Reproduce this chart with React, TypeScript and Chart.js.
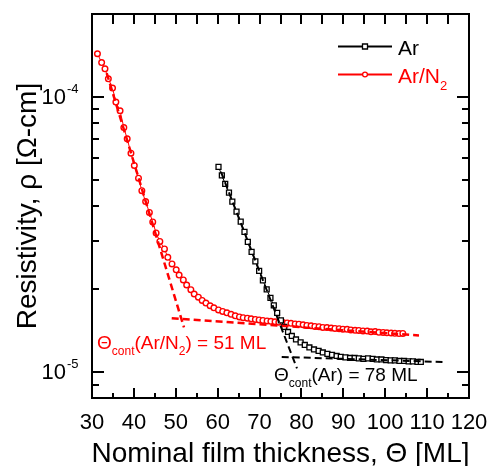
import React, { useEffect, useRef } from 'react';
import { Chart, registerables } from 'chart.js';

Chart.register(...registerables);

const FONT = '"Liberation Sans", Arial, Helvetica, sans-serif';

// Ar series (thickness in ML, resistivity in Ohm-cm)
const arThickness = [
  60.2, 61.0, 61.8, 62.7, 63.5, 64.5, 65.5, 66.4, 67.2, 68.1, 69.0, 69.9, 70.8, 71.7,
  72.6, 73.4, 74.2, 75.1, 75.9, 76.8, 77.7, 78.7, 79.8, 80.8,
  81.9, 83.0, 84.1, 85.1, 86.2, 87.3, 88.4, 89.4,
  90.5, 91.6, 92.7, 93.7, 94.8, 95.9, 97.0, 98.0, 99.1, 100.2,
  101.3, 102.3, 103.4, 104.5, 105.6, 106.6, 107.7, 108.5,
];
const arResistivity = [
  5.565e-5, 5.183e-5, 4.826e-5, 4.487e-5, 4.16e-5, 3.827e-5, 3.52e-5, 3.229e-5, 2.97e-5, 2.731e-5, 2.522e-5, 2.33e-5, 2.151e-5, 1.995e-5,
  1.858e-5, 1.745e-5, 1.639e-5, 1.539e-5, 1.457e-5, 1.397e-5, 1.351e-5, 1.312e-5, 1.28e-5, 1.253e-5,
  1.227e-5, 1.207e-5, 1.192e-5, 1.177e-5, 1.163e-5, 1.153e-5, 1.143e-5, 1.134e-5,
  1.129e-5, 1.124e-5, 1.124e-5, 1.12e-5, 1.115e-5, 1.12e-5, 1.115e-5, 1.11e-5, 1.11e-5, 1.105e-5,
  1.101e-5, 1.101e-5, 1.096e-5, 1.096e-5, 1.092e-5, 1.092e-5, 1.087e-5, 1.087e-5,
];

// Ar/N2 series
const arN2Thickness = [
  31.3, 32.3, 33.1, 33.9, 34.9, 35.7, 36.7, 37.6, 38.4, 39.3, 40.1, 41.1, 41.9,
  42.8, 43.7, 44.5,
  45.3, 46.2, 47.3, 48.1, 49.1, 50.1, 50.8, 51.8, 52.6, 53.6, 54.4, 55.4, 56.3, 57.2, 58.2, 59.1, 60.2, 61.2, 62.2, 63.2, 64.2, 65.2, 66.1, 67.1,
  68.0, 69.0, 69.9, 70.8, 71.8, 72.7, 73.7, 74.6, 75.6, 76.6, 77.5, 78.5, 79.4, 80.4, 81.3, 82.3, 83.2, 84.2, 85.1, 86.1,
  87.1, 88.0, 89.0, 89.9, 90.9, 91.8, 92.8, 93.7, 94.7, 95.7, 96.6, 97.6, 98.5, 99.5, 100.4, 101.4, 102.3, 103.3, 104.2,
];
const arN2Resistivity = [
  1.434e-4, 1.332e-4, 1.264e-4, 1.163e-4, 1.076e-4, 9.57e-5, 8.9e-5, 7.73e-5, 7.04e-5, 6.24e-5, 5.63e-5, 5.06e-5, 4.56e-5,
  4.16e-5, 3.8e-5, 3.51e-5,
  3.2e-5, 2.98e-5, 2.8e-5, 2.61e-5, 2.47e-5, 2.35e-5, 2.25e-5, 2.16e-5, 2.07e-5, 1.99e-5, 1.92e-5, 1.87e-5, 1.82e-5, 1.78e-5, 1.74e-5, 1.71e-5, 1.68e-5, 1.66e-5, 1.64e-5, 1.62e-5, 1.6e-5, 1.585e-5, 1.575e-5, 1.568e-5,
  1.56e-5, 1.552e-5, 1.545e-5, 1.539e-5, 1.533e-5, 1.528e-5, 1.522e-5, 1.517e-5, 1.512e-5, 1.507e-5, 1.502e-5, 1.494e-5, 1.491e-5, 1.484e-5, 1.476e-5, 1.472e-5, 1.464e-5, 1.46e-5, 1.451e-5, 1.45e-5,
  1.443e-5, 1.439e-5, 1.436e-5, 1.43e-5, 1.429e-5, 1.421e-5, 1.417e-5, 1.415e-5, 1.409e-5, 1.408e-5, 1.399e-5, 1.402e-5, 1.393e-5, 1.392e-5, 1.387e-5, 1.385e-5, 1.382e-5, 1.379e-5, 1.38e-5,
];

// Linear fits (dashed)
const arFitSteepX = [60.79, 78.94];
const arFitSteepY = [5.336e-5, 1.03e-5];
const arFitFlatX = [75.29, 113.67];
const arFitFlatY = [1.134e-5, 1.087e-5];
const arN2FitSteepX = [33.51, 51.96];
const arN2FitSteepY = [1.22e-4, 1.451e-5];
const arN2FitFlatX = [49.03, 108.06];
const arN2FitFlatY = [1.568e-5, 1.357e-5];

// Axes
const xMin = 30;
const xMax = 120;
const yMin = 8.04e-6;
const yMax = 2.0e-4;
const xMajorTicks = [30, 40, 50, 60, 70, 80, 90, 100, 110, 120];
const xMinorTicks = [35, 45, 55, 65, 75, 85, 95, 105, 115];
const yMajorTicks = [1e-5, 1e-4];
const yMajorExponents = ['-5', '-4'];
const yMinorTicks = [9e-6, 2e-5, 3e-5, 4e-5, 5e-5, 6e-5, 7e-5, 8e-5, 9e-5];

const xTitle = 'Nominal film thickness, \u0398 [ML]';
const yTitle = 'Resistivity, \u03C1 [\u03A9-cm]';
const seriesNames = ['Ar', 'Ar/N'];
const seriesSubs = ['', '2'];
const arNote = ['\u0398', 'cont', '(Ar) = 78 ML'];
const arN2Note = ['\u0398', 'cont', '(Ar/N', '2', ') = 51 ML'];

const RED = '#ff0000';
const BLACK = '#000000';

type Part = { t: string; size: number; dy: number };

function drawParts(ctx: CanvasRenderingContext2D, x: number, y: number, parts: Part[], color: string) {
  ctx.fillStyle = color;
  ctx.textAlign = 'left';
  ctx.textBaseline = 'alphabetic';
  let cx = x;
  for (const p of parts) {
    ctx.font = `${p.size}px ${FONT}`;
    ctx.fillText(p.t, cx, y + p.dy);
    cx += ctx.measureText(p.t).width;
  }
}

const decorPlugin = {
  id: 'decor',
  afterDraw(chart: any) {
    const ctx: CanvasRenderingContext2D = chart.ctx;
    const { left, right, top, bottom } = chart.chartArea;
    const xs = chart.scales.x;
    const ys = chart.scales.y;
    ctx.save();
    ctx.strokeStyle = BLACK;
    ctx.lineWidth = 2;
    ctx.lineCap = 'butt';
    ctx.strokeRect(left, top, right - left, bottom - top);
    ctx.beginPath();
    for (const v of xMajorTicks) {
      const p = Math.round(xs.getPixelForValue(v));
      ctx.moveTo(p, bottom); ctx.lineTo(p, bottom - 10);
      ctx.moveTo(p, top); ctx.lineTo(p, top + 10);
    }
    for (const v of xMinorTicks) {
      const p = Math.round(xs.getPixelForValue(v));
      ctx.moveTo(p, bottom); ctx.lineTo(p, bottom - 5);
      ctx.moveTo(p, top); ctx.lineTo(p, top + 10);
    }
    for (const v of yMajorTicks) {
      const p = Math.round(ys.getPixelForValue(v));
      ctx.moveTo(left, p); ctx.lineTo(left + 12, p);
      ctx.moveTo(right, p); ctx.lineTo(right - 12, p);
    }
    for (const v of yMinorTicks) {
      const p = Math.round(ys.getPixelForValue(v));
      ctx.moveTo(left, p); ctx.lineTo(left + 7, p);
      ctx.moveTo(right, p); ctx.lineTo(right - 7, p);
    }
    ctx.stroke();

    // x tick labels
    ctx.fillStyle = BLACK;
    ctx.font = `22px ${FONT}`;
    ctx.textAlign = 'center';
    ctx.textBaseline = 'alphabetic';
    for (const v of xMajorTicks) {
      ctx.fillText(String(v), xs.getPixelForValue(v), 429);
    }
    // y tick labels 10^n
    yMajorTicks.forEach((v, i) => {
      const p = ys.getPixelForValue(v);
      ctx.font = `22px ${FONT}`;
      ctx.textAlign = 'right';
      ctx.fillText('10', 66, p + 7.5);
      ctx.font = `13px ${FONT}`;
      ctx.textAlign = 'left';
      ctx.fillText(yMajorExponents[i], 67, p - 4);
    });

    // axis titles
    ctx.font = `28px ${FONT}`;
    ctx.textAlign = 'center';
    ctx.fillText(xTitle, (left + right) / 2, 462);
    ctx.save();
    ctx.translate(36, (top + bottom) / 2);
    ctx.rotate(-Math.PI / 2);
    ctx.textBaseline = 'alphabetic';
    ctx.fillText(yTitle, 0, 0);
    ctx.restore();

    // legend
    const legendY = [46.5, 74.5];
    const legendColors = [BLACK, RED];
    for (let i = 0; i < 2; i++) {
      const yy = legendY[i];
      ctx.strokeStyle = legendColors[i];
      ctx.lineWidth = 2;
      ctx.beginPath();
      ctx.moveTo(338, yy);
      ctx.lineTo(392, yy);
      ctx.stroke();
      ctx.fillStyle = '#ffffff';
      ctx.lineWidth = 1.3;
      ctx.beginPath();
      if (i === 0) {
        ctx.rect(362.5, yy - 2.5, 5, 5);
      } else {
        ctx.arc(365, yy, 2.4, 0, Math.PI * 2);
      }
      ctx.fill();
      ctx.stroke();
      const parts: Part[] = [{ t: seriesNames[i], size: 21, dy: 0 }];
      if (seriesSubs[i]) parts.push({ t: seriesSubs[i], size: 13, dy: 7 });
      drawParts(ctx, 398, yy + 8, parts, legendColors[i]);
    }

    // annotations
    drawParts(ctx, 97, 349, [
      { t: arN2Note[0], size: 19, dy: 0 },
      { t: arN2Note[1], size: 12, dy: 6 },
      { t: arN2Note[2], size: 19, dy: 0 },
      { t: arN2Note[3], size: 12, dy: 6 },
      { t: arN2Note[4], size: 19, dy: 0 },
    ], RED);
    drawParts(ctx, 274, 380.5, [
      { t: arNote[0], size: 19, dy: 0 },
      { t: arNote[1], size: 12, dy: 6 },
      { t: arNote[2], size: 19, dy: 0 },
    ], BLACK);
    ctx.restore();
  },
};

const toPoints = (xs: number[], ys: number[]) => xs.map((x, i) => ({ x, y: ys[i] }));

export default function App() {
  const ref = useRef<HTMLCanvasElement | null>(null);
  useEffect(() => {
    if (!ref.current) return;
    const fit = (xs: number[], ys: number[], color: string, w: number) => ({
      data: toPoints(xs, ys),
      showLine: true,
      borderColor: color,
      borderWidth: w,
      borderDash: [7, 4],
      pointRadius: 0,
      fill: false,
    });
    const chart = new Chart(ref.current, {
      type: 'scatter',
      data: {
        datasets: [
          { label: 'Ar fit steep', ...fit(arFitSteepX, arFitSteepY, BLACK, 2) },
          { label: 'Ar fit flat', ...fit(arFitFlatX, arFitFlatY, BLACK, 2) },
          { label: 'Ar/N2 fit steep', ...fit(arN2FitSteepX, arN2FitSteepY, RED, 2.5) },
          { label: 'Ar/N2 fit flat', ...fit(arN2FitFlatX, arN2FitFlatY, RED, 2.5) },
          {
            label: 'Ar',
            data: toPoints(arThickness, arResistivity),
            showLine: true,
            borderColor: BLACK,
            borderWidth: 1,
            pointStyle: 'rect',
            pointRadius: 3.5,
            pointBorderWidth: 1.3,
            pointBorderColor: BLACK,
            pointBackgroundColor: '#ffffff',
          },
          {
            label: 'Ar/N2',
            data: toPoints(arN2Thickness, arN2Resistivity),
            showLine: true,
            borderColor: RED,
            borderWidth: 1,
            pointStyle: 'circle',
            pointRadius: 2.8,
            pointBorderWidth: 1.4,
            pointBorderColor: RED,
            pointBackgroundColor: '#ffffff',
          },
        ],
      },
      options: {
        responsive: false,
        animation: false,
        devicePixelRatio: 1,
        layout: { padding: { left: 92, right: 19, top: 14, bottom: 68 } },
        elements: { line: { tension: 0 } },
        plugins: { legend: { display: false }, tooltip: { enabled: false } },
        scales: {
          x: { type: 'linear', min: xMin, max: xMax, display: false },
          y: { type: 'logarithmic', min: yMin, max: yMax, display: false },
        },
      },
      plugins: [decorPlugin],
    } as any);
    return () => chart.destroy();
  }, []);
  return (
    <div style={{ position: 'absolute', left: 0, top: 0, width: 488, height: 466, background: '#fff' }}>
      <canvas ref={ref} width={488} height={466} style={{ width: 488, height: 466 }} />
    </div>
  );
}
